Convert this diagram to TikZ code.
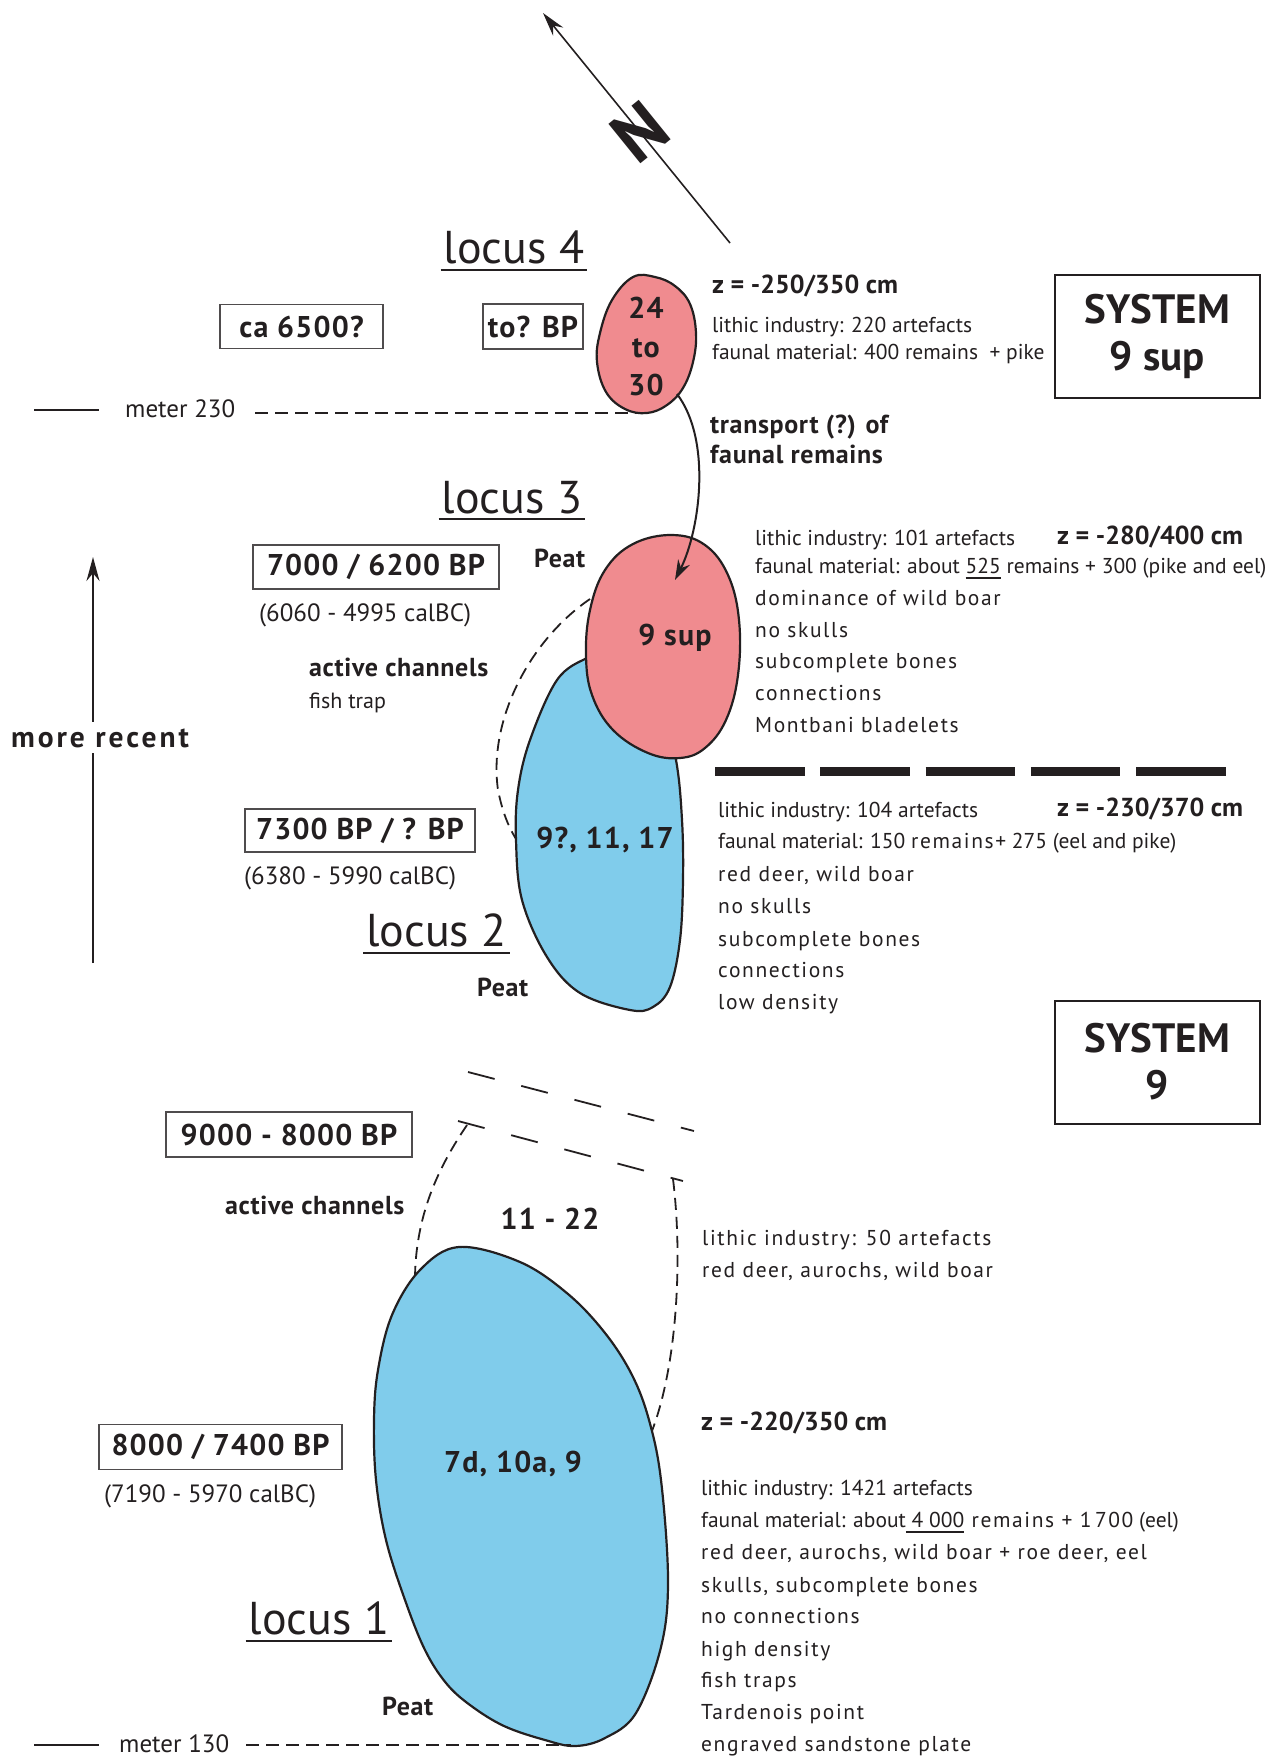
\documentclass[tikz,border=0pt]{standalone}
\usepackage{fontspec}
\setmainfont{PT Sans}
\newfontfamily\widefont[LetterSpace=7.5]{PT Sans}
\newfontfamily\trackfont[LetterSpace=4]{PT Sans}
\newfontfamily\boldtrack[LetterSpace=2.5]{PT Sans}
\newfontfamily\widebold[LetterSpace=10]{PT Sans}
\usetikzlibrary{arrows.meta}
\definecolor{ink}{RGB}{35,31,32}
\definecolor{pinkfill}{RGB}{240,139,143}
\definecolor{bluefill}{RGB}{128,204,235}
\newcommand{\myul}[1]{\setbox0\hbox{#1}\rlap{\rule[-5.5pt]{\wd0}{1.6pt}}\box0\relax}
\begin{document}
\begin{tikzpicture}[x=1pt,y=-1pt,
 txt/.style={inner sep=0pt,text=ink,anchor=base west,font=\fontsize{21.5}{26}\selectfont},
 wtxt/.style={inner sep=0pt,text=ink,anchor=base west,font=\widefont\fontsize{21.5}{26}\selectfont},
 midtxt/.style={inner sep=0pt,text=ink,anchor=base west,font=\fontsize{25}{30}\selectfont},
 btxt/.style={inner sep=0pt,text=ink,anchor=base west,font=\boldtrack\bfseries\fontsize{26}{30}\selectfont},
 ztxt/.style={inner sep=0pt,text=ink,anchor=base west,font=\bfseries\fontsize{26}{30}\selectfont},
 datebox/.style={draw=ink!80,line width=1.3pt,inner sep=0pt,text=ink,font=\trackfont\bfseries\fontsize{30}{36}\selectfont},
 sysbox/.style={draw=ink,line width=2pt,minimum width=205pt,minimum height=123pt,align=center,text=ink,font=\bfseries\fontsize{41}{47}\selectfont},
 locuslbl/.style={inner xsep=3pt,inner ysep=0pt,anchor=base,text=ink,font=\fontsize{46}{50}\selectfont},
 blobnum/.style={inner sep=0pt,anchor=base,text=ink,font=\trackfont\bfseries\fontsize{30}{36}\selectfont},
 outline/.style={draw=ink,line width=2.2pt},
 chan/.style={draw=ink,line width=1.8pt,dash pattern=on 12pt off 7pt},
 sepdash/.style={draw=ink,line width=1.8pt,dash pattern=on 27.5pt off 27.5pt},
 meterdash/.style={draw=ink,line width=1.8pt,dash pattern=on 13pt off 7pt},
 uline/.style={draw=ink,line width=2.2pt},
 solidrule/.style={draw=ink,line width=1.8pt}
]
\useasboundingbox (0,0) rectangle (1287,1756);

% ---------- North arrow
\coordinate (nS) at (730,243);
\coordinate (nN) at (543,13);
\draw[ink,line width=1.6pt,-{Stealth[length=24pt,width=13pt]}] (nS) -- (nN);
\node[text=ink,rotate=39,inner sep=0pt,font=\bfseries\fontsize{72}{72}\selectfont] (north) at (640,132) {N};

% ---------- more recent arrow
\coordinate (mrb) at (93,963);
\coordinate (mrt) at (93,557);
\draw[ink,line width=1.8pt,-{Stealth[length=24pt,width=13pt]}] (mrb) -- (mrt);
\node[inner xsep=2pt,inner ysep=6pt,fill=white,anchor=base,text=ink,font=\widebold\bfseries\fontsize{29.5}{32}\selectfont] (mr) at (100,747) {more recent};

% ---------- locus 4
\node[locuslbl] (l4) at (514,263) {locus 4};
\draw[uline] ([yshift=-7pt]l4.base west) -- ([yshift=-7pt]l4.base east);
\node[datebox,minimum width=163pt,minimum height=44pt] (d4a) at (301.5,326.5) {ca 6500?};
\node[datebox,minimum width=100pt,minimum height=45pt] (d4b) at (533,326.5) {to? BP};

\coordinate (m230l) at (34,410);
\coordinate (m230r) at (99,410);
\draw[solidrule] (m230l) -- (m230r);
\node[midtxt] (m230) at (125,417) {meter 230};
\coordinate (m230s) at (255,413);
\coordinate (m230e) at (636,413);
\draw[meterdash] (m230s) -- (m230e);

\path[outline,fill=pinkfill] plot[smooth cycle,tension=0.65] coordinates {(633,277) (655,277) (675,286) (690,304) (696,333) (693,362) (683,388) (667,405) (647,413) (625,409) (606,392) (597,362) (600,333) (612,300)};
\node[blobnum] (b4a) at (646,318) {24};
\node[blobnum] (b4b) at (646,357) {to};
\node[blobnum] (b4c) at (646,395) {30};

\node[ztxt] (z4) at (712,293) {z = -250/350 cm};
\node[txt] (li4) at (712,332) {lithic industry: 220 artefacts};
\node[txt] (fa4) at (712,359) {faunal material: 400 remains~ + pike};
\node[sysbox] (sys1) at (1157.5,336) {SYSTEM\\9 sup};

\node[btxt] (tr1) at (710,433) {transport (?) of};
\node[btxt] (tr2) at (710,463) {faunal remains};

% ---------- locus 3 / locus 2
\node[locuslbl] (l3) at (512,513) {locus 3};
\draw[uline] ([yshift=-6pt]l3.base west) -- ([yshift=-6pt]l3.base east);
\node[datebox,minimum width=246pt,minimum height=44pt] (d3) at (376,567) {7000 / 6200 BP};
\node[midtxt] (c3) at (259,621) {(6060 - 4995 calBC)};
\node[btxt] (peat3) at (534,567) {Peat};
\node[btxt] (ac3) at (309,676) {active channels};
\node[txt,font=\fontsize{22}{26}\selectfont] (ft3) at (309,708) {fish trap};

\draw[chan] (590,599) .. controls (530,640) and (488,720) .. (498,790) .. controls (503,815) and (510,830) .. (518,842);

\path[outline,fill=bluefill] plot[smooth cycle,tension=0.6] coordinates {(610,652) (587,658) (557,680) (530,740) (518,790) (516,840) (522,900) (547,957) (580,993) (630,1010) (653,1007) (670,987) (680,940) (683,880) (682,820) (676,760) (660,700) (640,665)};
\path[outline,fill=pinkfill] plot[smooth cycle,tension=0.65] coordinates {(672,535) (705,545) (728,575) (739,620) (738,675) (726,720) (705,748) (680,758) (648,753) (613,730) (592,695) (586,655) (590,610) (605,570) (633,544)};

\coordinate (p4out) at (677,394);
\coordinate (p9in) at (675,580);
\draw[ink,line width=2pt,-{Stealth[length=20pt,width=13pt]}] (p4out) .. controls (712,440) and (700,530) .. (p9in);

\node[blobnum] (b9) at (675,645) {9 sup};
\node[blobnum] (b2) at (605,848) {9?, 11, 17};

\node[txt] (li3) at (755,545) {lithic industry: 101 artefacts};
\node[ztxt] (z3) at (1057,544) {z = -280/400 cm};
\node[txt] (fa3) at (755,573) {faunal material: about \myul{525} remains + 300 (pike and eel)};
\node[wtxt] (g3a) at (755,605) {dominance of wild boar};
\node[wtxt] (g3b) at (755,637) {no skulls};
\node[wtxt] (g3c) at (755,668) {subcomplete bones};
\node[wtxt] (g3d) at (755,700) {connections};
\node[wtxt] (g3e) at (755,732) {Montbani bladelets};

\coordinate (td1) at (715,771);
\coordinate (td2) at (1226,771);
\draw[ink,line width=9pt,dash pattern=on 89.5pt off 15.8pt] (td1) -- (td2);

\node[datebox,minimum width=230pt,minimum height=43pt] (d2) at (360,830.5) {7300 BP / ? BP};
\node[midtxt] (c2) at (244,884) {(6380 - 5990 calBC)};
\node[locuslbl] (l2) at (436.5,946) {locus 2};
\draw[uline] ([yshift=-7pt]l2.base west) -- ([yshift=-7pt]l2.base east);
\node[btxt] (peat2) at (477,996) {Peat};

\node[txt] (li2) at (718,817) {lithic industry: 104 artefacts};
\node[ztxt] (z2) at (1057,816) {z = -230/370 cm};
\node[txt] (fa2) at (718,848) {faunal material: 150 {\widefont remains+} 275 (eel and pike)};
\node[wtxt] (g2a) at (718,881) {red deer, wild boar};
\node[wtxt] (g2b) at (718,913) {no skulls};
\node[wtxt] (g2c) at (718,946) {subcomplete bones};
\node[wtxt] (g2d) at (718,977) {connections};
\node[wtxt] (g2e) at (718,1009) {low density};

\node[sysbox] (sys2) at (1157.5,1062) {SYSTEM\\9};

% ---------- locus 1
\coordinate (sd1a) at (468,1072);
\coordinate (sd1b) at (694,1131);
\coordinate (sd2a) at (458,1121);
\coordinate (sd2b) at (683,1181);
\draw[sepdash] (sd1a) -- (sd1b);
\draw[sepdash] (sd2a) -- (sd2b);

\node[datebox,minimum width=246pt,minimum height=45pt] (d1a) at (289,1134.5) {9000 - 8000 BP};
\node[btxt] (ac1) at (225,1214) {active channels};
\node[blobnum] (n1122) at (550,1229) {11 - 22};
\node[wtxt] (li50) at (702,1245) {lithic industry: 50 artefacts};
\node[wtxt] (rd50) at (702,1277) {red deer, aurochs, wild boar};

\draw[chan] (467,1125) .. controls (440,1165) and (414,1215) .. (415,1285);
\draw[chan] (673,1179) .. controls (683,1260) and (677,1370) .. (650,1436);

\path[outline,fill=bluefill] plot[smooth cycle,tension=0.6] coordinates {(459,1247) (520,1262) (568,1294) (605,1333) (632,1375) (649,1420) (661,1480) (668,1580) (661,1647) (636,1713) (605,1738) (575,1746) (545,1740) (504,1726) (470,1705) (446,1683) (425,1650) (405,1600) (386,1540) (376,1480) (374,1420) (378,1370) (392,1315) (420,1270)};
\node[blobnum] (n7d) at (513,1472) {7d, 10a, 9};

\node[datebox,minimum width=243pt,minimum height=45pt] (d1b) at (220.5,1447) {8000 / 7400 BP};
\node[midtxt] (c1) at (104,1502) {(7190 - 5970 calBC)};
\node[locuslbl] (l1) at (319,1634) {locus 1};
\draw[uline] ([yshift=-7pt]l1.base west) -- ([yshift=-7pt]l1.base east);
\node[btxt] (peat1) at (382,1715) {Peat};

\coordinate (m130l) at (34,1745);
\coordinate (m130r) at (99,1745);
\draw[solidrule] (m130l) -- (m130r);
\node[midtxt] (m130) at (119,1752) {meter 130};
\coordinate (m130s) at (246,1745);
\coordinate (m130e) at (571,1745);
\draw[meterdash] (m130s) -- (m130e);

\node[ztxt] (z1) at (701,1430) {z = -220/350 cm};
\node[txt] (li1) at (701,1495) {lithic industry: 1421 artefacts};
\node[txt] (fa1) at (701,1527) {faunal material: about\myul{\ 4\ 000}{\widefont\ remains + 1\,700} (eel)};
\node[wtxt] (g1a) at (701,1559) {red deer, aurochs, wild boar + roe deer, eel};
\node[wtxt] (g1b) at (701,1592) {skulls, subcomplete bones};
\node[wtxt] (g1c) at (701,1623) {no connections};
\node[wtxt] (g1d) at (701,1656) {high density};
\node[wtxt] (g1e) at (701,1687) {fish traps};
\node[wtxt] (g1f) at (701,1719) {Tardenois point};
\node[wtxt] (g1g) at (701,1751) {engraved sandstone plate};
\end{tikzpicture}
\end{document}
